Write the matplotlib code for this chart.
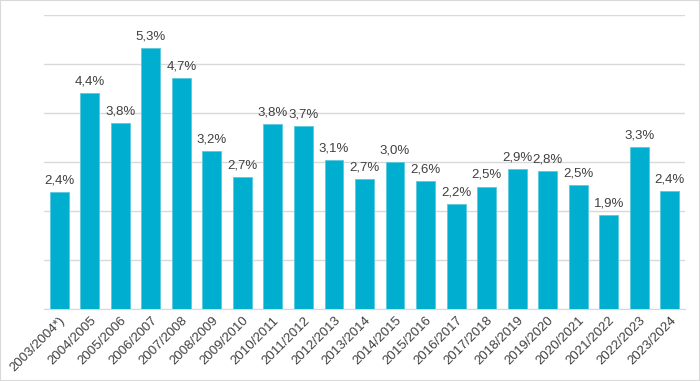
import matplotlib
matplotlib.use("Agg")
import matplotlib.pyplot as plt
from matplotlib.patches import Rectangle

categories = ["2003/2004*)", "2004/2005", "2005/2006", "2006/2007", "2007/2008",
              "2008/2009", "2009/2010", "2010/2011", "2011/2012", "2012/2013",
              "2013/2014", "2014/2015", "2015/2016", "2016/2017", "2017/2018",
              "2018/2019", "2019/2020", "2020/2021", "2021/2022", "2022/2023",
              "2023/2024"]
values = [2.39, 4.41, 3.80, 5.33, 4.72, 3.22, 2.69, 3.77, 3.73, 3.04,
          2.65, 2.99, 2.61, 2.14, 2.50, 2.85, 2.82, 2.53, 1.91, 3.30, 2.40]
labels = ["2,4%", "4,4%", "3,8%", "5,3%", "4,7%", "3,2%", "2,7%", "3,8%", "3,7%", "3,1%",
          "2,7%", "3,0%", "2,6%", "2,2%", "2,5%", "2,9%", "2,8%", "2,5%", "1,9%", "3,3%", "2,4%"]

plt.rcParams['font.family'] = ['Liberation Sans', 'DejaVu Sans']

fig = plt.figure(figsize=(7.0, 3.81), dpi=100)
W, H = 700, 381
ax = fig.add_axes([44 / W, 1 - 309 / H, (685 - 44) / W, (309 - 15) / H])

x = range(len(categories))
ax.bar(x, values, width=0.62, color="#00AECF", edgecolor="#5CC8DE", linewidth=0.6, zorder=3)
for i, (v, lab) in enumerate(zip(values, labels)):
    ax.annotate(lab, (i, v), xytext=(0, 4), textcoords="offset points",
                ha="center", va="bottom", fontsize=9.5, color="#404040")

ax.set_xlim(-0.5, len(categories) - 0.5)
ax.set_ylim(0, 6)
ax.set_yticks([0, 1, 2, 3, 4, 5, 6])
ax.yaxis.grid(True, color="#D9D9D9", linewidth=1)
ax.set_axisbelow(True)
ax.tick_params(axis="y", left=False, labelleft=False)
ax.tick_params(axis="x", length=0, pad=4)
ax.set_xticks(list(x))
ax.set_xticklabels(categories, rotation=45, ha="right", rotation_mode="anchor",
                   fontsize=9.5, color="#404040")
for s in ["top", "right", "left"]:
    ax.spines[s].set_visible(False)
ax.spines["bottom"].set_color("#D9D9D9")

fig.patches.append(Rectangle((0, 0), 1, 1, transform=fig.transFigure, fill=False,
                             edgecolor="#D9D9D9", linewidth=1.5))

fig.savefig("out.png", dpi=100)
